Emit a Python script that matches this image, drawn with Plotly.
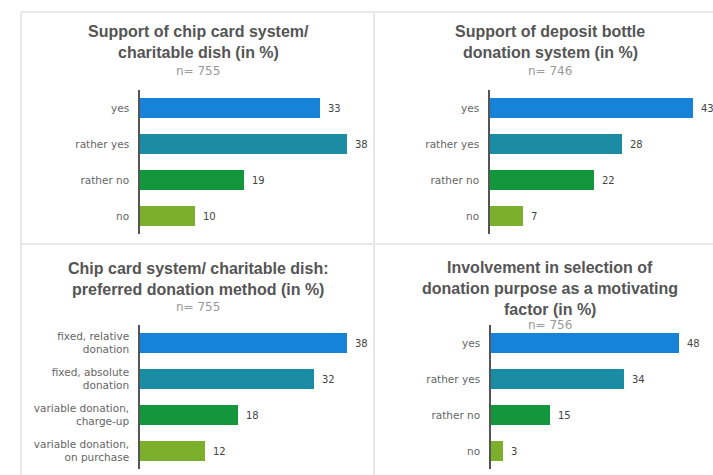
import plotly.graph_objects as go

# ---- data ----
cats_support = ["yes", "rather yes", "rather no", "no"]
vals_chip = [33, 38, 19, 10]
vals_bottle = [43, 28, 22, 7]
cats_method = ["fixed, relative<br>donation", "fixed, absolute<br>donation",
               "variable donation,<br>charge-up", "variable donation,<br>on purchase"]
vals_method = [38, 32, 18, 12]
vals_involve = [48, 34, 15, 3]

titles = [
    ["Support of chip card system/", "charitable dish (in %)"],
    ["Support of deposit bottle", "donation system (in %)"],
    ["Chip card system/ charitable dish:", "preferred donation method (in %)"],
    ["Involvement in selection of", "donation purpose as a motivating", "factor (in %)"],
]
n_labels = ["n= 755", "n= 746", "n= 755", "n= 756"]

colors = ["#1783d8", "#1a8ca4", "#12973c", "#7cb02c"]

W, H = 713, 475

panels = [
    dict(cats=cats_support, vals=vals_chip, ax0=140, ax1=355, scale=5.45, ytop=90),
    dict(cats=cats_support, vals=vals_bottle, ax0=490, ax1=705, scale=4.72, ytop=90),
    dict(cats=cats_method, vals=vals_method, ax0=140, ax1=355, scale=5.45, ytop=325),
    dict(cats=cats_support, vals=vals_involve, ax0=491, ax1=705, scale=3.92, ytop=325),
]

fig = go.Figure()
annotations = []
for i, p in enumerate(panels):
    k = "" if i == 0 else str(i + 1)
    xa, ya = "x" + k, "y" + k
    fig.add_trace(go.Bar(
        x=p["vals"], y=p["cats"], orientation="h",
        marker=dict(color=colors, line=dict(width=0)),
        width=0.56, xaxis=xa, yaxis=ya, showlegend=False,
        hoverinfo="x+y",
    ))
    for c, v in zip(p["cats"], p["vals"]):
        annotations.append(dict(
            x=v, y=c, xref=xa, yref=ya, text=str(v), showarrow=False,
            xanchor="left", xshift=6,
            font=dict(size=10, color="#444", family="DejaVu Sans"),
        ))
    xr = (p["ax1"] - p["ax0"]) / p["scale"]
    ybot = p["ytop"] + 144
    fig.update_layout(**{
        "xaxis" + k: dict(domain=[p["ax0"] / W, p["ax1"] / W], range=[0, xr],
                          visible=False, anchor=ya),
        "yaxis" + k: dict(domain=[1 - ybot / H, 1 - p["ytop"] / H],
                          categoryorder="array", categoryarray=p["cats"],
                          autorange="reversed", anchor=xa,
                          showline=True, linecolor="#555", linewidth=1.5,
                          showgrid=False, zeroline=False, ticks="",
                          ticklabelstandoff=7,
                          tickfont=dict(size=10.5, color="#666", family="DejaVu Sans")),
    })

# titles
centers = [198, 550, 198, 550]
title_tops = [32, 32, 268, 267]
n_y = [71, 71, 307, 325]
for i in range(4):
    for j, line in enumerate(titles[i]):
        annotations.append(dict(
            x=centers[i] / W, y=1 - (title_tops[i] + 21 * j) / H,
            xref="paper", yref="paper", text="<b>" + line + "</b>",
            showarrow=False, xanchor="center", yanchor="middle",
            font=dict(size=16, color="#555", family="Liberation Sans"),
        ))
    annotations.append(dict(
        x=centers[i] / W, y=1 - n_y[i] / H, xref="paper", yref="paper",
        text=n_labels[i], showarrow=False, xanchor="center", yanchor="middle",
        font=dict(size=12, color="#999", family="DejaVu Sans"),
    ))

# panel frame lines
lc = "#e8e8e8"
shapes = [
    dict(type="line", xref="paper", yref="paper", x0=21 / W, x1=1, y0=1 - 12 / H, y1=1 - 12 / H,
         line=dict(color=lc, width=2)),
    dict(type="line", xref="paper", yref="paper", x0=21 / W, x1=21 / W, y0=0, y1=1 - 12 / H,
         line=dict(color=lc, width=2)),
    dict(type="line", xref="paper", yref="paper", x0=374 / W, x1=374 / W, y0=0, y1=1 - 12 / H,
         line=dict(color=lc, width=2)),
    dict(type="line", xref="paper", yref="paper", x0=21 / W, x1=1, y0=1 - 244 / H, y1=1 - 244 / H,
         line=dict(color=lc, width=2)),
]

fig.update_layout(
    width=W, height=H, margin=dict(l=0, r=0, t=0, b=0),
    paper_bgcolor="white", plot_bgcolor="rgba(0,0,0,0)",
    annotations=annotations, shapes=shapes, bargap=0,
)

fig.write_html("out.html")
